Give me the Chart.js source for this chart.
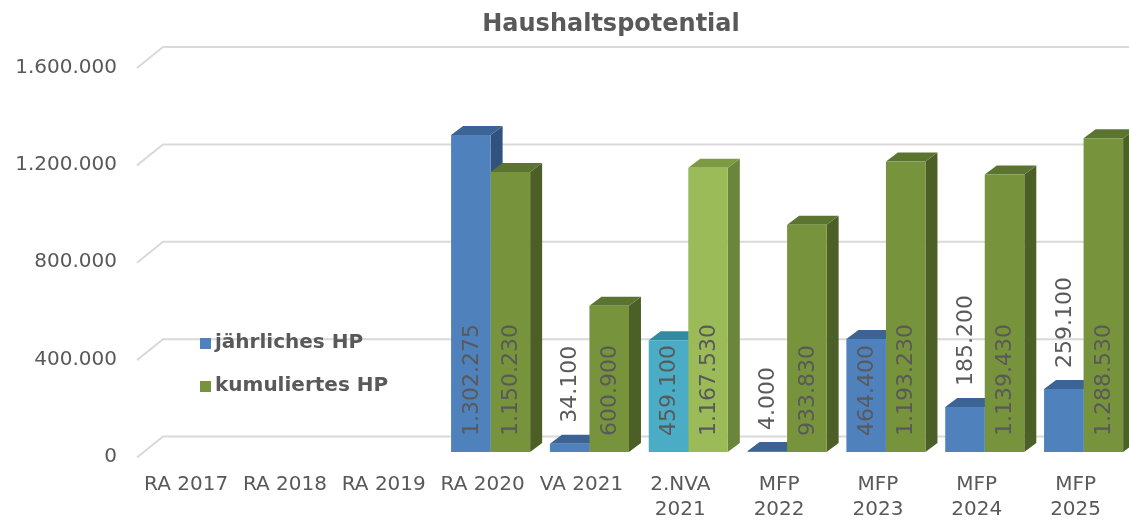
<!DOCTYPE html>
<html>
<head>
<meta charset="utf-8">
<script src="https://cdn.jsdelivr.net/npm/chart.js@4.4.1/dist/chart.umd.min.js"></script>
<style>
  body { margin: 0; overflow: hidden; background: #fff; }
  canvas { display: block; }
</style>
</head>
<body>
<canvas id="chart" width="1133" height="520"></canvas>
<script>
// data
const categories = ['RA 2017', 'RA 2018', 'RA 2019', 'RA 2020', 'VA 2021', ['2.NVA', '2021'], ['MFP', '2022'], ['MFP', '2023'], ['MFP', '2024'], ['MFP', '2025']];
const yearlyHP = [null, null, null, 1302275, 34100, 459100, 4000, 464400, 185200, 259100];
const cumulativeHP = [null, null, null, 1150230, 600900, 1167530, 933830, 1193230, 1139430, 1288530];
const yTicks = [0, 400000, 800000, 1200000, 1600000];
const highlightIndex = 5;

const FONT = 'DejaVu Sans';
const TEXT = '#595959';

// front / top / side shades, second entry is the highlighted column
const shades = [
    [{ front: '#4f81bd', top: '#3b6394', side: '#31527e' }, { front: '#4bacc6', top: '#348aa0', side: '#2c778b' }],
    [{ front: '#77933c', top: '#5b7430', side: '#4b5f27' }, { front: '#9bbb59', top: '#7b9a42', side: '#6b863a' }]
];
const shade = (ds, i) => shades[ds][i === highlightIndex ? 1 : 0];

const fmt = v => String(v).replace(/\B(?=(\d{3})+(?!\d))/g, '.');

const DEPTH_X = 12, DEPTH_Y = 9;

const bars3d = {
    id: 'bars3d',
    beforeDatasetsDraw(chart) {
        const ctx = chart.ctx;
        const y = chart.scales.y;
        ctx.save();
        // floor/back-wall gridlines
        ctx.strokeStyle = '#d9d9d9';
        ctx.lineWidth = 2;
        y.ticks.forEach(t => {
            const py = y.getPixelForValue(t.value);
            ctx.beginPath();
            ctx.moveTo(137, py + 5.5);
            ctx.lineTo(163, py - 15.5);
            ctx.lineTo(chart.width, py - 15.5);
            ctx.stroke();
        });
        // top and side faces
        const metas = chart.data.datasets.map((_, d) => chart.getDatasetMeta(d));
        categories.forEach((_, i) => {
            metas.forEach((meta, d) => {
                const v = chart.data.datasets[d].data[i];
                if (v === null) return;
                const b = meta.data[i].getProps(['x', 'y', 'base', 'width'], true);
                const l = b.x - b.width / 2, r = b.x + b.width / 2;
                const c = shade(d, i);
                ctx.fillStyle = c.side;
                ctx.beginPath();
                ctx.moveTo(r, b.y);
                ctx.lineTo(r + DEPTH_X, b.y - DEPTH_Y);
                ctx.lineTo(r + DEPTH_X, b.base - DEPTH_Y);
                ctx.lineTo(r, b.base);
                ctx.closePath();
                ctx.fill();
                ctx.fillStyle = c.top;
                ctx.beginPath();
                ctx.moveTo(l, b.y);
                ctx.lineTo(l + DEPTH_X, b.y - DEPTH_Y);
                ctx.lineTo(r + DEPTH_X, b.y - DEPTH_Y);
                ctx.lineTo(r, b.y);
                ctx.closePath();
                ctx.fill();
            });
        });
        ctx.restore();
    },
    afterDatasetsDraw(chart) {
        const ctx = chart.ctx;
        ctx.save();
        ctx.font = `22px "${FONT}"`;
        ctx.fillStyle = TEXT;
        ctx.textBaseline = 'middle';
        chart.data.datasets.forEach((ds, d) => {
            const meta = chart.getDatasetMeta(d);
            ds.data.forEach((v, i) => {
                if (v === null) return;
                const b = meta.data[i].getProps(['x', 'y', 'base'], true);
                const txt = fmt(v);
                const w = ctx.measureText(txt).width;
                // inside the base when it fits, otherwise above the bar
                const start = b.base - b.y > w + 12 ? b.base - 16 : b.y - 21;
                ctx.save();
                ctx.translate(b.x + 1, start);
                ctx.rotate(-Math.PI / 2);
                ctx.textAlign = 'left';
                ctx.fillText(txt, 0, 0);
                ctx.restore();
            });
        });
        ctx.restore();
    },
    afterDraw(chart) {
        const ctx = chart.ctx;
        ctx.save();
        ctx.fillStyle = TEXT;
        ctx.textBaseline = 'middle';
        ctx.textAlign = 'center';
        ctx.font = `bold 24px "${FONT}"`;
        ctx.fillText('Haushaltspotential', 611, 25);
        // legend
        ctx.textAlign = 'left';
        ctx.font = `bold 20px "${FONT}"`;
        const rows = [343, 386];
        chart.data.datasets.forEach((ds, d) => {
            ctx.fillStyle = shades[d][0].front;
            ctx.fillRect(200, rows[d] - 5, 11, 11);
            ctx.fillStyle = TEXT;
            ctx.fillText(ds.label, 215, rows[d]);
        });
        ctx.restore();
    }
};

new Chart(document.getElementById('chart'), {
    type: 'bar',
    data: {
        labels: categories,
        datasets: [
            {
                label: 'jährliches HP',
                data: yearlyHP,
                backgroundColor: yearlyHP.map((_, i) => shade(0, i).front)
            },
            {
                label: 'kumuliertes HP',
                data: cumulativeHP,
                backgroundColor: cumulativeHP.map((_, i) => shade(1, i).front)
            }
        ]
    },
    options: {
        responsive: false,
        animation: false,
        layout: { padding: { top: 62.5, right: 0, left: 0, bottom: 0 } },
        datasets: { bar: { categoryPercentage: 0.8, barPercentage: 1 } },
        plugins: { legend: { display: false }, tooltip: { enabled: false }, title: { display: false } },
        scales: {
            x: {
                grid: { display: false, drawTicks: false },
                border: { display: false },
                ticks: { color: TEXT, font: { family: FONT, size: 20, lineHeight: '25px' }, padding: 20.5, labelOffset: -8, maxRotation: 0, autoSkip: false },
                afterFit: s => { s.height = 68; }
            },
            y: {
                min: 0,
                max: yTicks[yTicks.length - 1],
                afterBuildTicks: s => { s.ticks = yTicks.map(v => ({ value: v })); },
                grid: { display: false, drawTicks: false },
                border: { display: false },
                ticks: { color: TEXT, font: { family: FONT, size: 20 }, padding: 27.7, labelOffset: 5, callback: v => fmt(v) },
                afterFit: s => { s.width = 144.7; }
            }
        }
    },
    plugins: [bars3d]
});
</script>
</body>
</html>
